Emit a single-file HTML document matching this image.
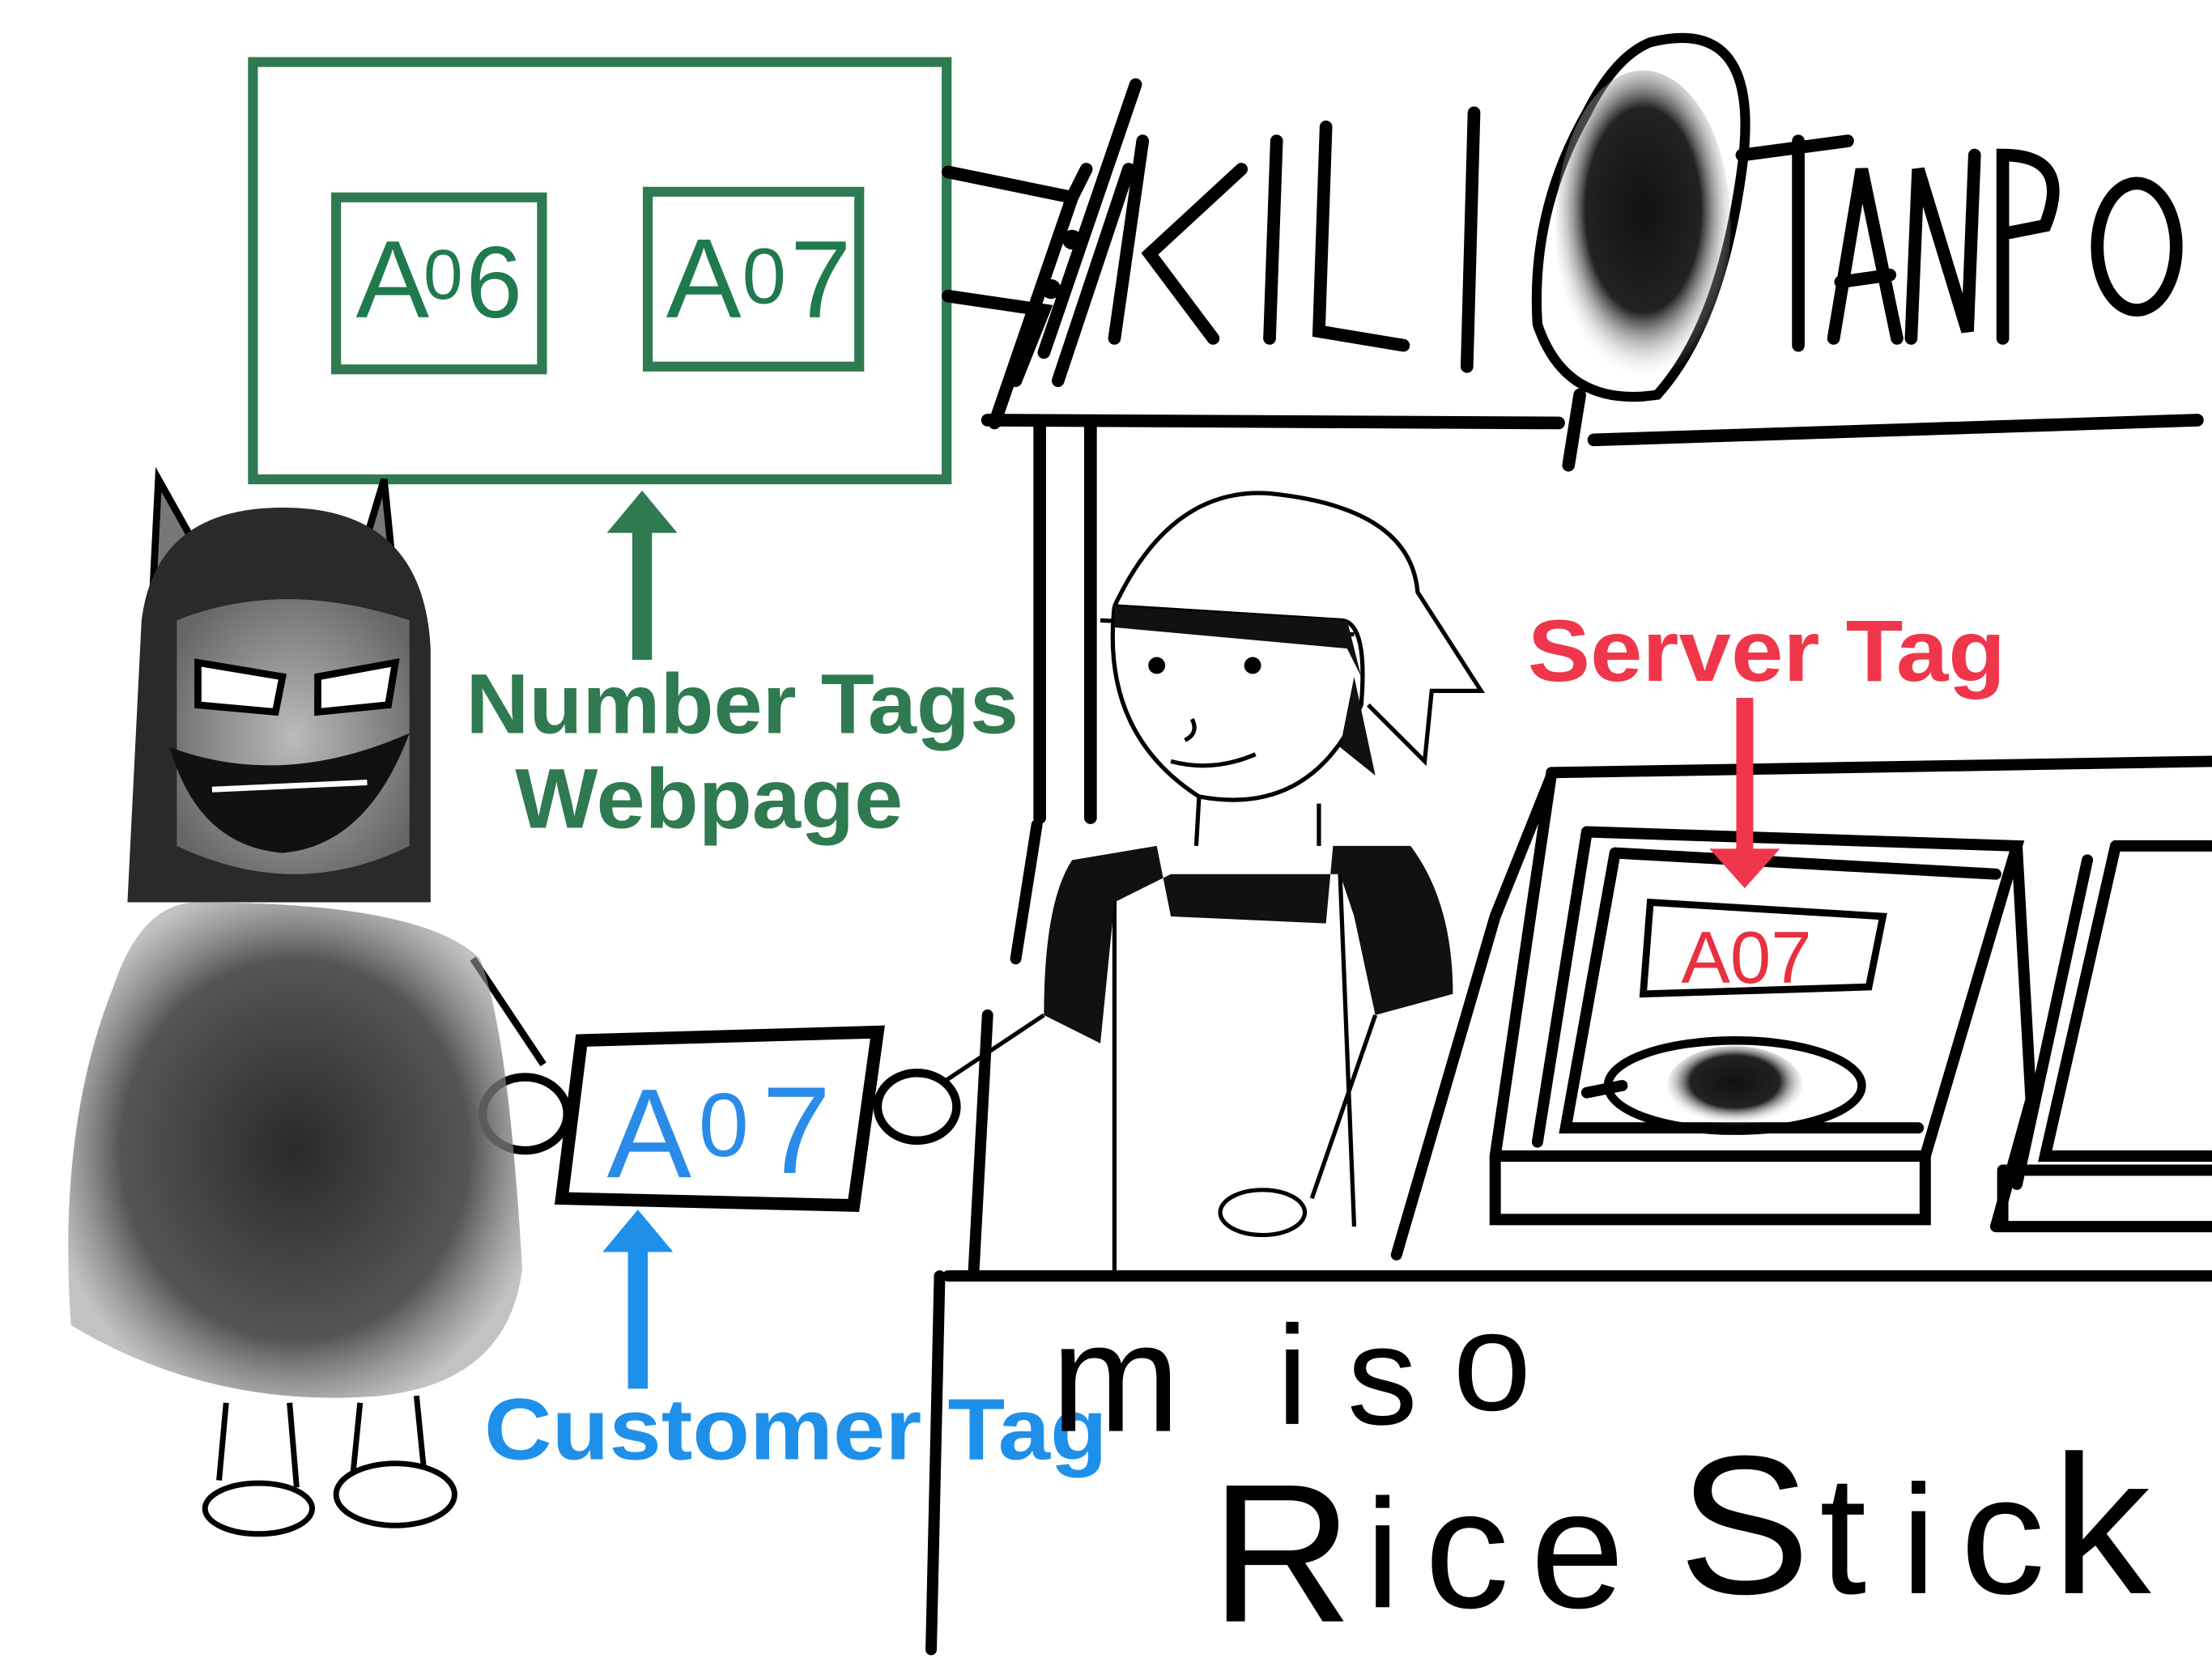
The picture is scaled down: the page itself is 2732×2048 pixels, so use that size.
<!DOCTYPE html>
<html><head><meta charset="utf-8"><style>
html,body{margin:0;padding:0;background:#fff;width:2732px;height:2048px;overflow:hidden}
svg{display:block}
</style></head><body>
<svg width="2732" height="2048" viewBox="0 0 1568 1176" xmlns="http://www.w3.org/2000/svg">
<defs>
<radialGradient id="blob" cx="50%" cy="45%" r="55%">
<stop offset="0" stop-color="#111"/><stop offset="0.6" stop-color="#222"/><stop offset="1" stop-color="#fff" stop-opacity="0"/>
</radialGradient>
<radialGradient id="fur" cx="50%" cy="50%" r="55%">
<stop offset="0" stop-color="#2a2a2a"/><stop offset="0.7" stop-color="#555"/><stop offset="1" stop-color="#999" stop-opacity="0.6"/>
</radialGradient>
<radialGradient id="face" cx="50%" cy="50%" r="60%">
<stop offset="0" stop-color="#bbb"/><stop offset="1" stop-color="#666"/>
</radialGradient>
</defs>
<rect width="1568" height="1176" fill="#fff"/>

<!-- Green webpage -->
<g fill="none" stroke="#2f7a50" stroke-width="7">
<rect x="179" y="44" width="492" height="296"/>
<rect x="238" y="140" width="146" height="122"/>
<rect x="459" y="136" width="150" height="124"/>
</g>
<g font-family="Liberation Sans, sans-serif" fill="#1f7a4d">
<text x="252" y="225" font-size="78">A</text>
<text x="300" y="212" font-size="50">0</text>
<text x="330" y="225" font-size="72">6</text>
<text x="472" y="225" font-size="80">A</text>
<text x="526" y="215" font-size="56">0</text>
<text x="560" y="225" font-size="78">7</text>
</g>
<line x1="455" y1="468" x2="455" y2="372" stroke="#2f7a50" stroke-width="14"/>
<polygon points="430,378 455,348 480,378" fill="#2f7a50"/>
<g font-family="Liberation Sans, sans-serif" font-weight="bold" fill="#2f7a50" font-size="60">
<text x="330" y="520" textLength="392" lengthAdjust="spacingAndGlyphs">Number Tags</text>
<text x="365" y="587" textLength="275" lengthAdjust="spacingAndGlyphs">Webpage</text>
</g>

<!-- Stall roof/title -->
<g fill="none" stroke="#000" stroke-width="9" stroke-linecap="round">
<path d="M672,122 L760,140 L770,120"/>
<path d="M672,210 L740,220 L720,270"/>
<path d="M760,140 L705,300 M805,60 L740,250 M800,120 L750,270"/>
<path d="M810,100 L790,240 M880,120 L815,180 L860,240"/>
<path d="M905,100 L900,240"/>
<path d="M940,90 L935,235 L995,245"/>
<path d="M1045,80 L1040,260"/>
<path d="M1235,110 L1310,100 M1275,100 L1275,245"/>
<path d="M1300,240 L1320,120 L1345,240 M1305,200 L1340,195"/>
<path d="M1355,240 L1360,120 L1395,235 L1400,110"/>
<path d="M1420,240 L1420,110 Q1470,110 1450,160 L1425,165"/>
<ellipse cx="1515" cy="175" rx="28" ry="45"/>
<path d="M700,298 L1105,300 M1130,312 L1558,298"/>
<path d="M737,300 L737,580 M773,300 L773,580"/>
<path d="M1120,280 L1112,330"/>
</g>
<circle cx="760" cy="170" r="7"/><circle cx="745" cy="205" r="7"/>
<path d="M1170,30 Q1250,10 1235,120 Q1220,230 1175,280 Q1110,290 1090,230 Q1085,150 1125,80 Q1145,40 1170,30Z" fill="none" stroke="#000" stroke-width="7"/>
<ellipse cx="1165" cy="160" rx="62" ry="110" fill="url(#blob)"/>

<!-- Counter -->
<g fill="none" stroke="#000" stroke-width="8" stroke-linecap="round">
<path d="M672,905 L1568,905"/>
<path d="M666,905 L660,1170"/>
<path d="M735,585 L720,680 M690,905 L700,720"/>
<path d="M1100,548 L1568,540"/>
<path d="M1100,548 L1060,820 L1060,865 L1365,865 L1365,820 L1060,820"/>
<path d="M1125,590 L1430,600 L1365,820 M1430,600 L1440,780 L1415,870"/>
<path d="M1125,590 L1090,810 M1145,605 L1415,620 M1145,605 L1110,800 L1360,800"/>
<path d="M1170,640 L1335,650 L1325,700 L1165,705 Z" stroke-width="5"/>
<ellipse cx="1230" cy="770" rx="90" ry="32" stroke-width="6"/>
<path d="M1125,775 L1150,770"/>
<path d="M1500,600 L1568,600 M1500,600 L1450,820 L1568,820 M1420,830 L1568,830 M1420,830 L1420,870 L1568,870 M1480,610 L1430,840"/>
<path d="M990,890 L1060,650 L1100,550"/>
</g>
<ellipse cx="1230" cy="770" rx="48" ry="28" fill="url(#blob)"/>
<g font-family="Liberation Sans, sans-serif" fill="#e8303f"><text x="1192" y="697" font-size="52">A07</text></g>
<line x1="1237" y1="495" x2="1237" y2="605" stroke="#f0364a" stroke-width="12"/>
<polygon points="1212,602 1237,630 1262,602" fill="#f0364a"/>
<text x="1083" y="483" font-family="Liberation Sans, sans-serif" font-weight="bold" font-size="62" fill="#f0364a" textLength="339" lengthAdjust="spacingAndGlyphs">Server Tag</text>

<!-- Server person -->
<g fill="none" stroke="#000" stroke-width="3">
<path d="M790,430 Q830,345 900,350 Q1000,360 1005,420 L1050,490 L1015,490 L1010,540 L970,500"/>
<path d="M790,430 Q780,520 850,565 Q930,580 965,500 Q970,440 950,440 L790,430"/>
<path d="M850,565 L848,600 M935,570 L935,600"/>
<path d="M780,440 L960,450"/>
<path d="M845,510 Q850,520 840,525 M830,540 Q860,548 890,535"/>
<path d="M790,620 L790,905 M950,620 L960,870 M975,720 L930,850"/>
<ellipse cx="895" cy="860" rx="30" ry="16" fill="#fff"/>
<path d="M740,720 Q710,740 665,770"/>
</g>
<path d="M790,430 L790,445 L955,460 L965,480 L955,440Z" fill="#111"/>
<path d="M760,610 L820,600 L830,650 L940,655 L945,600 L1000,600 Q1030,640 1030,705 L975,720 L960,650 L950,620 L830,620 L790,640 L780,740 L740,720 Q740,640 760,610Z" fill="#111"/>
<path d="M960,480 L975,550 L950,530Z" fill="#111"/>
<circle cx="820" cy="472" r="6"/><circle cx="888" cy="472" r="6"/>

<!-- Customer tag -->
<path d="M412,738 L622,732 L605,855 L398,850 Z" fill="#fff" stroke="#000" stroke-width="9"/>
<g font-family="Liberation Sans, sans-serif" fill="#2a8ce8"><text x="430" y="835" font-size="90">A</text><text x="495" y="820" font-size="64">0</text><text x="540" y="832" font-size="88">7</text></g>
<ellipse cx="372" cy="790" rx="30" ry="26" fill="#fff" stroke="#000" stroke-width="6"/>
<ellipse cx="650" cy="785" rx="28" ry="24" fill="#fff" stroke="#000" stroke-width="6"/>
<line x1="335" y1="680" x2="385" y2="755" stroke="#000" stroke-width="5"/>
<line x1="452" y1="985" x2="452" y2="885" stroke="#1e90ea" stroke-width="14"/>
<polygon points="427,888 452,858 477,888" fill="#1e90ea"/>

<!-- Monster -->
<path d="M108,420 L112,340 L140,390 L260,380 L272,340 L280,420Z" fill="#777" stroke="#000" stroke-width="5"/>
<path d="M100,440 Q110,360 200,360 Q300,360 305,460 L305,640 L90,640 Z" fill="#2a2a2a"/>
<path d="M125,440 Q200,410 290,440 L290,600 Q210,640 125,600 Z" fill="url(#face)"/>
<path d="M140,470 L200,480 L195,505 L140,500Z M225,480 L280,470 L275,500 L225,505Z" fill="#fff" stroke="#000" stroke-width="5"/>
<path d="M120,530 Q200,560 290,520 Q260,600 200,605 Q140,600 120,530Z" fill="#111"/>
<path d="M150,560 L260,555" stroke="#fff" stroke-width="4"/>
<path d="M140,640 Q100,640 80,700 Q40,800 50,940 Q150,1000 270,990 Q360,980 370,900 Q360,730 340,680 Q300,640 140,640Z" fill="url(#fur)"/>
<g fill="none" stroke="#000" stroke-width="4">
<path d="M160,995 L155,1050 M205,995 L210,1055 M255,995 L250,1045 M295,990 L300,1040"/>
<ellipse cx="183" cy="1070" rx="38" ry="18" fill="#fff"/>
<ellipse cx="280" cy="1060" rx="42" ry="22" fill="#fff"/>
</g>

<text x="343" y="1035" font-family="Liberation Sans, sans-serif" font-weight="bold" font-size="62" fill="#1e90ea" textLength="442" lengthAdjust="spacingAndGlyphs">Customer Tag</text>

<!-- Miso Rice Stick -->
<g font-family="Liberation Sans, sans-serif" fill="#000">
<text x="745" y="1015" font-size="110">m</text>
<text x="905" y="1010" font-size="100">i</text>
<text x="955" y="1010" font-size="100">s</text>
<text x="1030" y="1000" font-size="100">o</text>
<text x="858" y="1150" font-size="140">R</text>
<text x="968" y="1140" font-size="110">i</text>
<text x="1010" y="1140" font-size="120">c</text>
<text x="1085" y="1140" font-size="120">e</text>
<text x="1190" y="1130" font-size="140">S</text>
<text x="1290" y="1130" font-size="120">t</text>
<text x="1348" y="1130" font-size="110">i</text>
<text x="1390" y="1130" font-size="120">c</text>
<text x="1455" y="1130" font-size="140">k</text>
</g>
</svg>
</body></html>
